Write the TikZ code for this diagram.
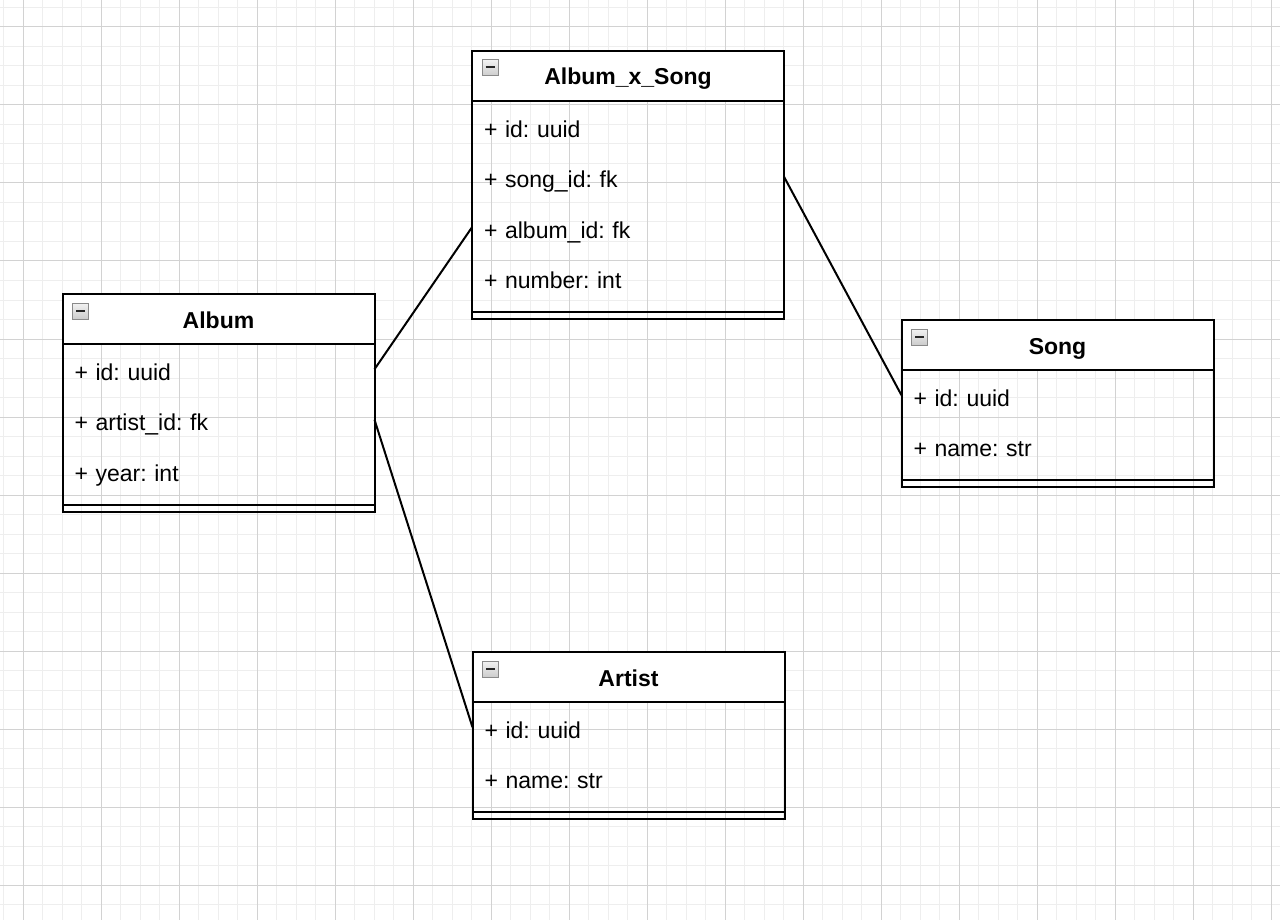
\documentclass[tikz,border=0pt]{standalone}
\usepackage{fontspec}
\setmainfont{Liberation Sans}
\usetikzlibrary{positioning}
\frenchspacing

\definecolor{gridminor}{HTML}{EEEEEE}
\definecolor{gridmajor}{HTML}{D2D2D2}
\definecolor{icongray}{HTML}{8A8A8A}

\tikzset{
  title/.style={draw, line width=2pt, fill=white, minimum width=312pt, minimum height=50pt,
    inner sep=0pt, outer sep=0pt, text height=18pt, text depth=0pt,
    font=\fontsize{23}{27}\selectfont\bfseries},
  field/.style={minimum width=312pt, minimum height=50.5pt, text width=288pt, inner xsep=12pt,
    inner ysep=0pt, outer sep=0pt, align=left, text height=22pt, text depth=0pt,
    font=\fontsize{23}{27}\selectfont},
  gap/.style={minimum width=312pt, minimum height=9pt, inner sep=0pt, outer sep=0pt},
  compart/.style={draw, line width=2pt, minimum width=312pt, minimum height=7pt, inner sep=0pt, outer sep=0pt},
  entity/.style={line width=2pt},
  link/.style={line width=2pt},
  toggle/.style={draw=icongray, line width=1pt, top color=gray!10, bottom color=gray!40,
    minimum size=16pt, inner sep=0pt,
    path picture={\draw[line width=2pt, black!85]
      ([xshift=3.5pt,yshift=0.5pt]path picture bounding box.west) --
      ([xshift=-3.5pt,yshift=0.5pt]path picture bounding box.east);}}
}

\begin{document}
\begin{tikzpicture}[x=1pt, y=-1pt]
  \useasboundingbox (0,0) rectangle (1280,920);
  \fill[white] (0,0) rectangle (1280,920);

  % background grid
  \foreach \gx in {3.5,23,...,1280} \draw[gridminor, line width=1pt] (\gx,0) -- (\gx,920);
  \foreach \gy in {7.5,27,...,920} \draw[gridminor, line width=1pt] (0,\gy) -- (1280,\gy);
  \foreach \gx in {23,101,...,1280} \draw[gridmajor, line width=1pt] (\gx,0) -- (\gx,920);
  \foreach \gy in {27,105,...,920} \draw[gridmajor, line width=1pt] (0,\gy) -- (1280,\gy);

  % Album
  \node[title] (album) at (218.5,319) {Album};
  \node[field, below=0pt of album] (album-id) {+ id: uuid};
  \node[field, below=0pt of album-id] (album-artist) {+ artist\_id: fk};
  \node[field, below=0pt of album-artist] (album-year) {+ year: int};
  \node[gap, below=0pt of album-year] (album-gap) {};
  \node[compart, below=0pt of album-gap] (album-end) {};
  \draw[entity] (album.north west) rectangle (album-end.south east);
  \node[toggle] (album-toggle) at ([xshift=18pt,yshift=-17pt]album.north west) {};

  % Album_x_Song
  \node[title] (axs) at (628,76) {Album\_x\_Song};
  \node[field, below=0pt of axs] (axs-id) {+ id: uuid};
  \node[field, below=0pt of axs-id] (axs-song) {+ song\_id: fk};
  \node[field, below=0pt of axs-song] (axs-album) {+ album\_id: fk};
  \node[field, below=0pt of axs-album] (axs-number) {+ number: int};
  \node[gap, below=0pt of axs-number] (axs-gap) {};
  \node[compart, below=0pt of axs-gap] (axs-end) {};
  \draw[entity] (axs.north west) rectangle (axs-end.south east);
  \node[toggle] (axs-toggle) at ([xshift=18pt,yshift=-17pt]axs.north west) {};

  % Song
  \node[title] (song) at (1057.5,345) {Song};
  \node[field, below=0pt of song] (song-id) {+ id: uuid};
  \node[field, below=0pt of song-id] (song-name) {+ name: str};
  \node[gap, below=0pt of song-name] (song-gap) {};
  \node[compart, below=0pt of song-gap] (song-end) {};
  \draw[entity] (song.north west) rectangle (song-end.south east);
  \node[toggle] (song-toggle) at ([xshift=18pt,yshift=-17pt]song.north west) {};

  % Artist
  \node[title] (artist) at (628.5,677) {Artist};
  \node[field, below=0pt of artist] (artist-id) {+ id: uuid};
  \node[field, below=0pt of artist-id] (artist-name) {+ name: str};
  \node[gap, below=0pt of artist-name] (artist-gap) {};
  \node[compart, below=0pt of artist-gap] (artist-end) {};
  \draw[entity] (artist.north west) rectangle (artist-end.south east);
  \node[toggle] (artist-toggle) at ([xshift=18pt,yshift=-17pt]artist.north west) {};

  % relations
  \draw[link] (album-id.east) -- (axs-album.west);
  \draw[link] (album-artist.east) -- (artist-id.west);
  \draw[link] (axs-song.east) -- (song-id.west);
\end{tikzpicture}
\end{document}
